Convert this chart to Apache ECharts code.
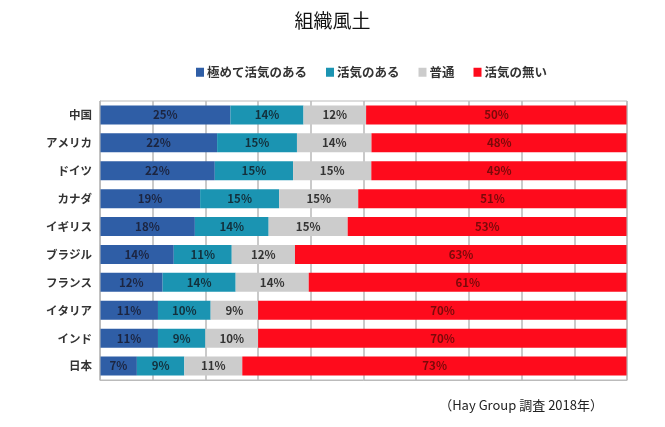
<!DOCTYPE html>
<html><head><meta charset="utf-8">
<script src="https://cdn.jsdelivr.net/npm/echarts@6/dist/echarts.min.js"></script>
<style>html,body{margin:0;padding:0;background:#fff}#c{width:665px;height:427px}</style>
</head><body><div id="c"></div>
<script>
const categories = ['中国','アメリカ','ドイツ','カナダ','イギリス','ブラジル','フランス','イタリア','インド','日本'];
const seriesNames = ['極めて活気のある','活気のある','普通','活気の無い'];
const veryActive = [25,22,22,19,18,14,12,11,11,7];
const active = [14,15,15,15,14,11,14,10,9,9];
const normal = [12,14,15,15,15,12,14,9,10,11];
const inactive = [50,48,49,51,53,63,61,70,70,73];
const colors = ['#2f5ea6','#1b94b2','#cccccc','#fe0b1c'];
const labelColors = ['#1c2540','#13303c','#333333','#7a0a0a'];

const raw = [veryActive, active, normal, inactive];
const totals = categories.map((_, i) => raw.reduce((s, a) => s + a[i], 0));
const cats = categories.slice().reverse();

const chart = echarts.init(document.getElementById('c'));
const series = raw.map((arr, k) => ({
  name: seriesNames[k],
  type: 'bar',
  stack: 'all',
  barWidth: 19,
  itemStyle: { color: colors[k] },
  label: {
    show: true, position: 'inside', color: labelColors[k],
    fontSize: 11.5, fontWeight: 'bold', fontFamily: 'Noto Sans CJK JP',
    formatter: p => arr[categories.length - 1 - p.dataIndex] + '%'
  },
  data: arr.map((v, i) => v / totals[i] * 100).reverse()
}));

chart.setOption({
  animation: false,
  title: { text: '組織風土', left: 'center', top: 6,
    textStyle: { fontSize: 19, fontWeight: 'normal', color: '#111', fontFamily: 'Noto Sans CJK JP' } },
  legend: {
    top: 61, left: 191, itemWidth: 8, itemHeight: 9, itemGap: 19,
    icon: 'rect',
    textStyle: { fontSize: 12.5, fontWeight: 'bold', color: '#333', fontFamily: 'Noto Sans CJK JP', padding: [0,0,0,-2] },
    data: seriesNames
  },
  grid: { left: 100, right: 38, top: 101, bottom: 47, containLabel: false },
  xAxis: {
    type: 'value', min: 0, max: 100, interval: 10,
    axisLabel: { show: false },
    axisLine: { show: true, lineStyle: { color: '#bbb' } },
    axisTick: { show: false },
    splitLine: { show: true, lineStyle: { color: '#b8b8b8', width: 1.5 } }
  },
  yAxis: {
    type: 'category', data: cats,
    axisLine: { show: true, lineStyle: { color: '#bbb' } },
    axisTick: { show: false },
    axisLabel: { fontSize: 11.5, fontWeight: 'bold', color: '#333', margin: 8, fontFamily: 'Noto Sans CJK JP' }
  },
  graphic: [{
    type: 'text', right: 62, top: 399,
    style: { text: '（Hay Group 調査 2018年）', fontSize: 13, fill: '#222', fontFamily: 'Noto Sans CJK JP' }
  }, {
    type: 'rect', shape: { x: 100, y: 101, width: 527, height: 279 },
    style: { fill: 'none', stroke: '#bbb', lineWidth: 1 }, z: 100
  }],
  series: series
});
</script></body></html>
